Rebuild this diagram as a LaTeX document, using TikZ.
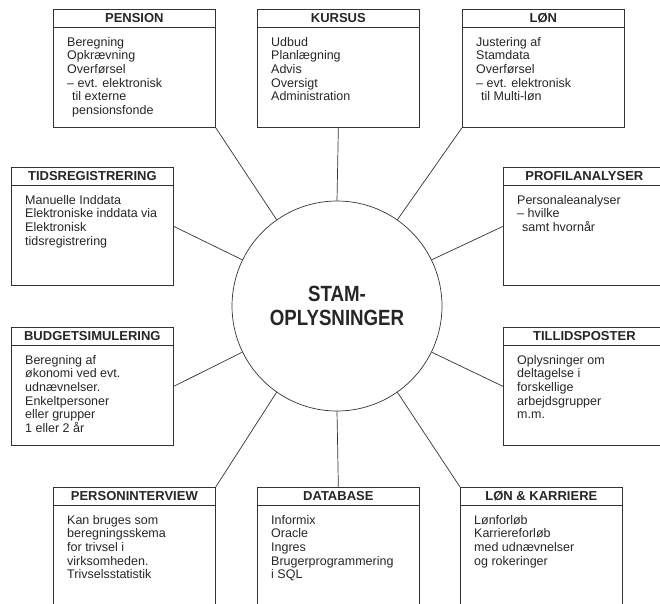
\documentclass[tikz,border=0pt]{standalone}
\usepackage{fontspec}
\setmainfont{Liberation Sans}
\newfontfamily\narrowsans[FakeStretch=0.85]{Liberation Sans}
\usetikzlibrary{positioning}

\begin{document}
\begin{tikzpicture}[x=1pt,y=-1pt,
    card/.style={draw=black!80,line width=0.7pt,anchor=north west,minimum width=162pt,minimum height=118pt,inner sep=0pt},
    head/.style={draw=black!80,line width=0.7pt,anchor=north,minimum width=162pt,minimum height=18pt,inner sep=0pt,text=black!85,font=\bfseries\fontsize{13}{14}\selectfont},
    txt/.style={anchor=north west,align=left,inner sep=0pt,text=black!85,font=\fontsize{12.5}{13.6}\selectfont},
    link/.style={draw=black!80,line width=0.7pt}]
    \useasboundingbox (0,0) rectangle (660,603);

    % centre
    \node[circle,draw=black!80,line width=0.7pt,minimum size=210pt,inner sep=0pt,align=center,text=black!85,
          font=\narrowsans\bfseries\fontsize{22}{24}\selectfont] (core) at (337,306) {STAM-\\OPLYSNINGER};

    % top row
    \node[card] (pen) at (53,9) {};
    \node[head] at (pen.north) {PENSION};
    \node[txt] at ([shift={(14,28)}]pen.north west) {Beregning\\Opkrævning\\Overførsel\\– evt. elektronisk\\\hspace*{5pt}til externe\\\hspace*{5pt}pensionsfonde};

    \node[card] (kur) at (257,9) {};
    \node[head] at (kur.north) {KURSUS};
    \node[txt] at ([shift={(14,28)}]kur.north west) {Udbud\\Planlægning\\Advis\\Oversigt\\Administration};

    \node[card] (lon) at (462,9) {};
    \node[head] at (lon.north) {LØN};
    \node[txt] at ([shift={(14,28)}]lon.north west) {Justering af\\Stamdata\\Overførsel\\– evt. elektronisk\\\hspace*{5pt}til Multi-løn};

    % middle rows
    \node[card] (tid) at (11,167) {};
    \node[head] at (tid.north) {TIDSREGISTRERING};
    \node[txt] at ([shift={(14,28)}]tid.north west) {Manuelle Inddata\\Elektroniske inddata via\\Elektronisk\\tidsregistrering};

    \node[card] (pro) at (503,167) {};
    \node[head] at (pro.north) {PROFILANALYSER};
    \node[txt] at ([shift={(14,28)}]pro.north west) {Personaleanalyser\\– hvilke\\\hspace*{5pt}samt hvornår};

    \node[card] (bud) at (11,327) {};
    \node[head] at (bud.north) {BUDGETSIMULERING};
    \node[txt] at ([shift={(14,28)}]bud.north west) {Beregning af\\økonomi ved evt.\\udnævnelser.\\Enkeltpersoner\\eller grupper\\1 eller 2 år};

    \node[card] (til) at (503,327) {};
    \node[head] at (til.north) {TILLIDSPOSTER};
    \node[txt] at ([shift={(14,28)}]til.north west) {Oplysninger om\\deltagelse i\\forskellige\\arbejdsgrupper\\m.m.};

    % bottom row
    \node[card] (per) at (53,487) {};
    \node[head] at (per.north) {PERSONINTERVIEW};
    \node[txt] at ([shift={(14,28)}]per.north west) {Kan bruges som\\beregningsskema\\for trivsel i\\virksomheden.\\Trivselsstatistik};

    \node[card] (dat) at (257,487) {};
    \node[head] at (dat.north) {DATABASE};
    \node[txt] at ([shift={(14,28)}]dat.north west) {Informix\\Oracle\\Ingres\\Brugerprogrammering\\i SQL};

    \node[card] (lk) at (460,487) {};
    \node[head] at (lk.north) {LØN \& KARRIERE};
    \node[txt] at ([shift={(14,28)}]lk.north west) {Lønforløb\\Karriereforløb\\med udnævnelser\\og rokeringer};

    % spokes
    \draw[link] (pen.south east) -- (core.125);
    \draw[link] (kur.south) -- (core.north);
    \draw[link] (lon.south west) -- (core.55);
    \draw[link] (tid.east) -- (core.154);
    \draw[link] (pro.west) -- (core.26);
    \draw[link] (bud.east) -- (core.206);
    \draw[link] (til.west) -- (core.334);
    \draw[link] (per.north east) -- (core.235);
    \draw[link] (dat.north) -- (core.south);
    \draw[link] (lk.north west) -- (core.305);
\end{tikzpicture}
\end{document}
